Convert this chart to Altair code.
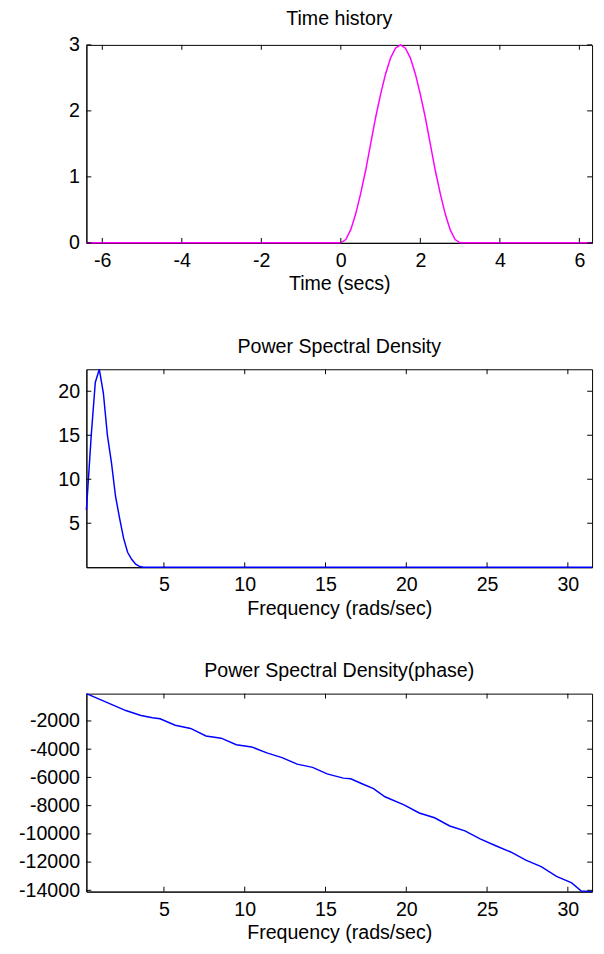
import altair as alt
import pandas as pd

# ---------------- data ----------------
th_t = [-6.4, -4.0, -2.0, 0.0, 0.125, 0.25, 0.375, 0.5, 0.625, 0.75, 0.875, 1.0,
        1.125, 1.25, 1.375, 1.5, 1.625, 1.75, 1.875, 2.0, 2.125, 2.25, 2.375, 2.5,
        2.625, 2.75, 2.875, 3.0, 4.0, 6.32]
th_y = [0.0, 0.0, 0.0, 0.0, 0.05, 0.2, 0.44, 0.75, 1.1, 1.5, 1.9, 2.25,
        2.56, 2.8, 2.95, 3.0, 2.95, 2.8, 2.56, 2.25, 1.9, 1.5, 1.1, 0.75,
        0.44, 0.2, 0.05, 0.0, 0.0, 0.0]

psd_w = [0.2, 0.5, 0.75, 1.0, 1.25, 1.5, 1.75, 2.0, 2.25, 2.5, 2.75, 3.0,
         3.25, 3.5, 3.75, 4.0, 31.5]
psd_v = [6.5, 15.0, 21.0, 22.5, 19.8, 15.0, 11.9, 8.1, 5.6, 3.3, 1.7, 0.9,
         0.35, 0.08, 0.0, 0.0, 0.0]

ph_w = [0.2, 1.46, 2.64, 3.58, 4.29, 4.76, 5.7, 6.65, 7.6, 8.54, 9.48, 10.43,
        11.37, 12.31, 13.25, 14.2, 15.1, 16.1, 16.56, 17.26, 17.97, 18.68, 19.86,
        20.8, 21.75, 22.69, 23.63, 24.57, 25.5, 26.46, 27.4, 28.35, 29.3, 30.24,
        30.83, 31.5]
ph_v = [-65, -686, -1263, -1608, -1770, -1840, -2300, -2530, -3060, -3220, -3680,
        -3840, -4260, -4600, -5060, -5290, -5750, -6050, -6100, -6450, -6790,
        -7370, -7940, -8520, -8860, -9440, -9790, -10360, -10820, -11280, -11860,
        -12320, -13010, -13470, -14050, -14090]

th_xticks = [-6, -4, -2, 0, 2, 4, 6]
th_yticks = [0, 1, 2, 3]
fr_xticks = [5, 10, 15, 20, 25, 30]
psd_yticks = [5, 10, 15, 20]
ph_yticks = [-2000, -4000, -6000, -8000, -10000, -12000, -14000]

th_xdom = [-6.4, 6.32]
th_ydom = [0, 3]
fr_xdom = [0.2, 31.5]
psd_ydom = [0, 22.5]
ph_ydom = [-14090, -65]

W = 516
H = 202
FONT = "Liberation Sans"
FS = 20
TL = 5  # inward tick length


def panel(title, xs, ys, xdom, ydom, xticks, yticks, color, xtitle, toff):
    df = pd.DataFrame({"x": xs, "y": ys})
    xsc = alt.Scale(domain=xdom, nice=False, zero=False)
    ysc = alt.Scale(domain=ydom, nice=False, zero=False)
    xax = alt.Axis(values=xticks, title=xtitle, labelExpr="datum.value + ''")
    yax = alt.Axis(values=yticks, title=None, labelExpr="datum.value + ''")
    line = alt.Chart(df).mark_line(color=color, strokeWidth=1.5, clip=False).encode(
        x=alt.X("x:Q", scale=xsc, axis=xax),
        y=alt.Y("y:Q", scale=ysc, axis=yax),
    )
    xt = pd.DataFrame({"x": xticks})
    yt = pd.DataFrame({"y": yticks})
    xb = alt.Chart(xt).mark_rule(color="black", strokeWidth=1).encode(
        x=alt.X("x:Q", scale=xsc, axis=xax), y=alt.value(H), y2=alt.value(H - TL))
    xtop = alt.Chart(xt).mark_rule(color="black", strokeWidth=1).encode(
        x=alt.X("x:Q", scale=xsc, axis=xax), y=alt.value(0), y2=alt.value(TL))
    yl = alt.Chart(yt).mark_rule(color="black", strokeWidth=1).encode(
        y=alt.Y("y:Q", scale=ysc, axis=yax), x=alt.value(0), x2=alt.value(TL))
    yr = alt.Chart(yt).mark_rule(color="black", strokeWidth=1).encode(
        y=alt.Y("y:Q", scale=ysc, axis=yax), x=alt.value(W), x2=alt.value(W - TL))
    return alt.layer(line, xb, xtop, yl, yr).properties(
        width=W, height=H,
        title=alt.TitleParams(title, fontSize=FS, font=FONT, fontWeight="normal",
                              color="black", offset=toff, anchor="middle"),
    )


p1 = panel("Time history", th_t, th_y, th_xdom, th_ydom, th_xticks, th_yticks,
           "#ff00ff", "Time (secs)", 6)
p2 = panel("Power Spectral Density", psd_w, psd_v, fr_xdom, psd_ydom, fr_xticks,
           psd_yticks, "#0000ff", "Frequency (rads/sec)", 10)
p3 = panel("Power Spectral Density(phase)", ph_w, ph_v, fr_xdom, ph_ydom, fr_xticks,
           ph_yticks, "#0000ff", "Frequency (rads/sec)", 10)

chart = alt.vconcat(p1, p2, p3, spacing=42).properties(
    padding={"left": 0, "top": -9, "right": 0, "bottom": 0}
).configure(font=FONT).configure_view(
    stroke="black", strokeWidth=1
).configure_axis(
    grid=False, ticks=False, domain=True, domainColor="black", domainWidth=1,
    labelFont=FONT, labelFontSize=FS, labelColor="black", labelPadding=8,
    titleFont=FONT, titleFontSize=FS, titleColor="black", titleFontWeight="normal",
    titlePadding=4,
).configure_axisY(minExtent=79, maxExtent=79, labelPadding=7)

chart.save("out.html", embed_options={"renderer": "svg", "actions": False})
